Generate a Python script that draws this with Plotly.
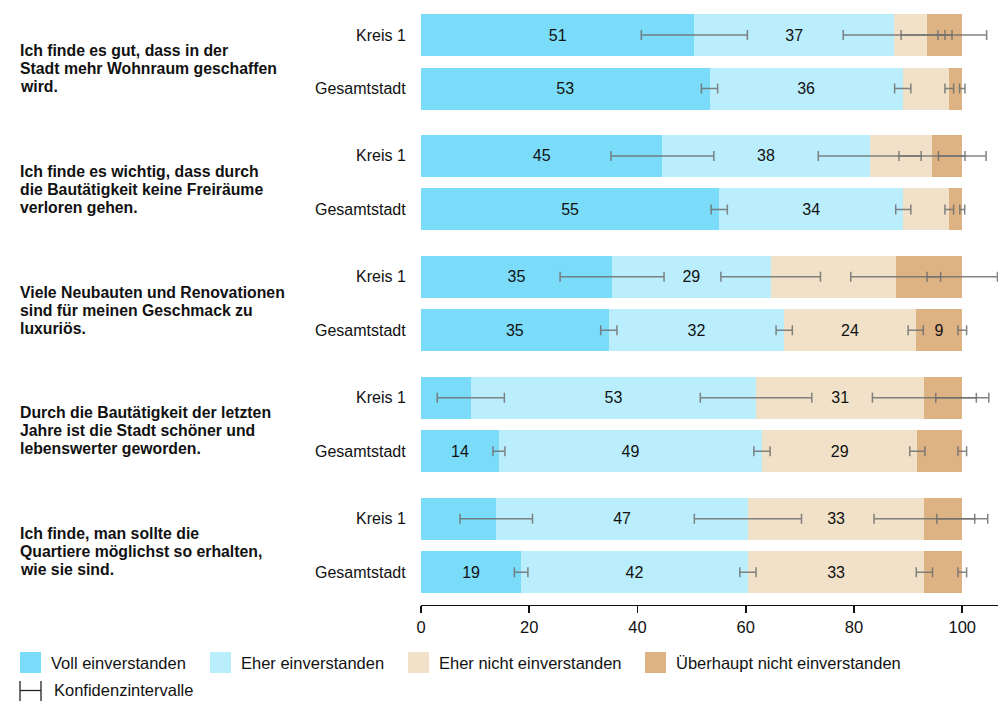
import numpy as np
import plotly.graph_objects as go

# ---------------- data ----------------
questions = [
    ["Ich finde es gut, dass in der", "Stadt mehr Wohnraum geschaffen", "wird."],
    ["Ich finde es wichtig, dass durch", "die Bautätigkeit keine Freiräume", "verloren gehen."],
    ["Viele Neubauten und Renovationen", "sind für meinen Geschmack zu", "luxuriös."],
    ["Durch die Bautätigkeit der letzten", "Jahre ist die Stadt schöner und", "lebenswerter geworden."],
    ["Ich finde, man sollte die", "Quartiere möglichst so erhalten,", "wie sie sind."],
]
groups = ["Kreis 1", "Gesamtstadt"]
series_names = ["Voll einverstanden", "Eher einverstanden",
                "Eher nicht einverstanden", "Überhaupt nicht einverstanden"]

# rows: (q1 Kreis 1, q1 Gesamtstadt, q2 Kreis 1, q2 Gesamtstadt, ...)
voll = [50.5, 53.3, 44.6, 55.1, 35.3, 34.7, 9.2, 14.4, 13.9, 18.5]
eher = [36.9, 35.7, 38.3, 34.0, 29.3, 32.4, 52.7, 48.6, 46.5, 41.9]
eher_nicht = [6.0, 8.6, 11.5, 8.5, 23.1, 24.3, 31.1, 28.7, 32.6, 32.6]
ueberhaupt = [6.6, 2.4, 5.6, 2.4, 12.3, 8.6, 7.0, 8.3, 7.0, 7.0]

err_voll = [9.8, 1.5, 9.5, 1.5, 9.6, 1.5, 6.2, 1.1, 6.7, 1.25]
err_eher = [9.4, 1.5, 9.5, 1.4, 9.2, 1.5, 10.3, 1.5, 9.9, 1.5]
err_eher_nicht = [4.7, 0.8, 6.1, 0.8, 8.3, 1.4, 9.6, 1.4, 9.3, 1.5]
err_ueberhaupt = [4.5, 0.5, 4.4, 0.45, 6.5, 0.8, 4.9, 0.8, 4.7, 0.8]

lbl_voll = ["51", "53", "45", "55", "35", "35", "", "14", "", "19"]
lbl_eher = ["37", "36", "38", "34", "29", "32", "53", "49", "47", "42"]
lbl_eher_nicht = ["", "", "", "", "", "24", "31", "29", "33", "33"]
lbl_ueberhaupt = ["", "", "", "", "", "9", "", "", "", ""]

x_ticks = [0, 20, 40, 60, 80, 100]

colors = ["#7bdcf9", "#bbeefd", "#f0e1c8", "#deb383"]
err_color = "rgba(110,110,110,0.85)"
FONT = "Liberation Sans, Arial, sans-serif"

# ---------------- layout helpers ----------------
W, H = 1000, 701
PLOT_TOP = 8
L, R, T, B = 421, 2, PLOT_TOP, 96
PW, PH = W - L - R, H - T - B
GROUP_STEP = 2.26
UNIT = 53.5
ypos = [g * GROUP_STEP + s for g in range(len(questions)) for s in range(len(groups))]
# y value 0 at pixel 35; axis at pixel 605
Y_TOP = -(35 - PLOT_TOP) / UNIT
Y_BOT = (605 - 35) / UNIT


def px_x(p):
    return (p - L) / PW


def px_y(p):
    return (H - B - p) / PH


fig = go.Figure()

vals = [voll, eher, eher_nicht, ueberhaupt]
errs = [err_voll, err_eher, err_eher_nicht, err_ueberhaupt]
lbls = [lbl_voll, lbl_eher, lbl_eher_nicht, lbl_ueberhaupt]

for name, v, lab, c in zip(series_names, vals, lbls, colors):
    fig.add_trace(go.Bar(
        x=v, y=ypos, orientation="h", name=name,
        marker=dict(color=c, line=dict(width=0)),
        width=0.785, text=lab, textposition="inside",
        insidetextanchor="middle", constraintext="none",
        textfont=dict(family=FONT, size=16, color="#111"),
        hoverinfo="skip", showlegend=False,
    ))

cum = np.cumsum(np.array(vals), axis=0)
for k in range(len(vals)):
    fig.add_trace(go.Scatter(
        x=cum[k], y=ypos, mode="markers", cliponaxis=False,
        marker=dict(size=1, opacity=0),
        error_x=dict(type="data", array=errs[k], visible=True,
                     color=err_color, thickness=1.5, width=5),
        hoverinfo="skip", showlegend=False,
    ))

annotations = []
# group labels
for i, yv in enumerate(ypos):
    annotations.append(dict(
        x=px_x(408), xref="paper", y=yv, yref="y", xanchor="right",
        yanchor="middle", text=groups[i % 2], showarrow=False,
        font=dict(family=FONT, size=16, color="#111")))
# questions (one annotation per line, 18 px spacing)
for g, lines in enumerate(questions):
    yc_page = 35 + (g * GROUP_STEP + 0.5) * UNIT + 6.5
    n = len(lines)
    for j, line in enumerate(lines):
        yl = yc_page + (j - (n - 1) / 2) * 18
        annotations.append(dict(
            x=px_x(18), xref="paper", y=px_y(yl), yref="paper", xanchor="left",
            yanchor="middle", align="left", text="<b>" + line + "</b>",
            showarrow=False, font=dict(family=FONT, size=15.8, color="#111")))

shapes = []
# legend
leg_x = [20, 210, 408, 645]
for lx, name, c in zip(leg_x, series_names, colors):
    shapes.append(dict(type="rect", xref="paper", yref="paper",
                       x0=px_x(lx), x1=px_x(lx + 21), y0=px_y(652), y1=px_y(673),
                       fillcolor=c, line=dict(width=0)))
    annotations.append(dict(
        x=px_x(lx + 29), xref="paper", y=px_y(662.5), yref="paper",
        xanchor="left", yanchor="middle", text=name, showarrow=False,
        font=dict(family=FONT, size=16.5, color="#111")))
# CI legend icon
for (x0, y0, x1, y1) in [(20, 681, 20, 701), (41, 681, 41, 701), (20, 690.5, 41, 690.5)]:
    shapes.append(dict(type="line", xref="paper", yref="paper",
                       x0=px_x(x0), x1=px_x(x1), y0=px_y(y0), y1=px_y(y1),
                       line=dict(color="#222", width=1.3)))
annotations.append(dict(
    x=px_x(52), xref="paper", y=px_y(690), yref="paper",
    xanchor="left", yanchor="middle", text="Konfidenzintervalle",
    showarrow=False, font=dict(family=FONT, size=16.5, color="#111")))

fig.update_layout(
    width=W, height=H,
    margin=dict(l=L, r=R, t=T, b=B, pad=0),
    barmode="stack", bargap=0,
    plot_bgcolor="white", paper_bgcolor="white",
    font=dict(family=FONT, size=15, color="#111"),
    xaxis=dict(range=[0, 106.6], tickvals=x_ticks, showgrid=False,
               zeroline=False, showline=True, linecolor="#111", linewidth=1.4,
               ticks="outside", ticklen=7, tickwidth=1.6, tickcolor="#111",
               tickfont=dict(family=FONT, size=16.5, color="#111")),
    yaxis=dict(range=[Y_BOT, Y_TOP], showticklabels=False, showgrid=False,
               zeroline=False, showline=False),
    annotations=annotations, shapes=shapes,
    uniformtext=dict(mode=False),
)

fig.write_html(
    "out.html",
    config={"displayModeBar": False, "staticPlot": True},
    post_script="document.body.style.margin='0';"
                "document.documentElement.style.overflow='hidden';",
)
